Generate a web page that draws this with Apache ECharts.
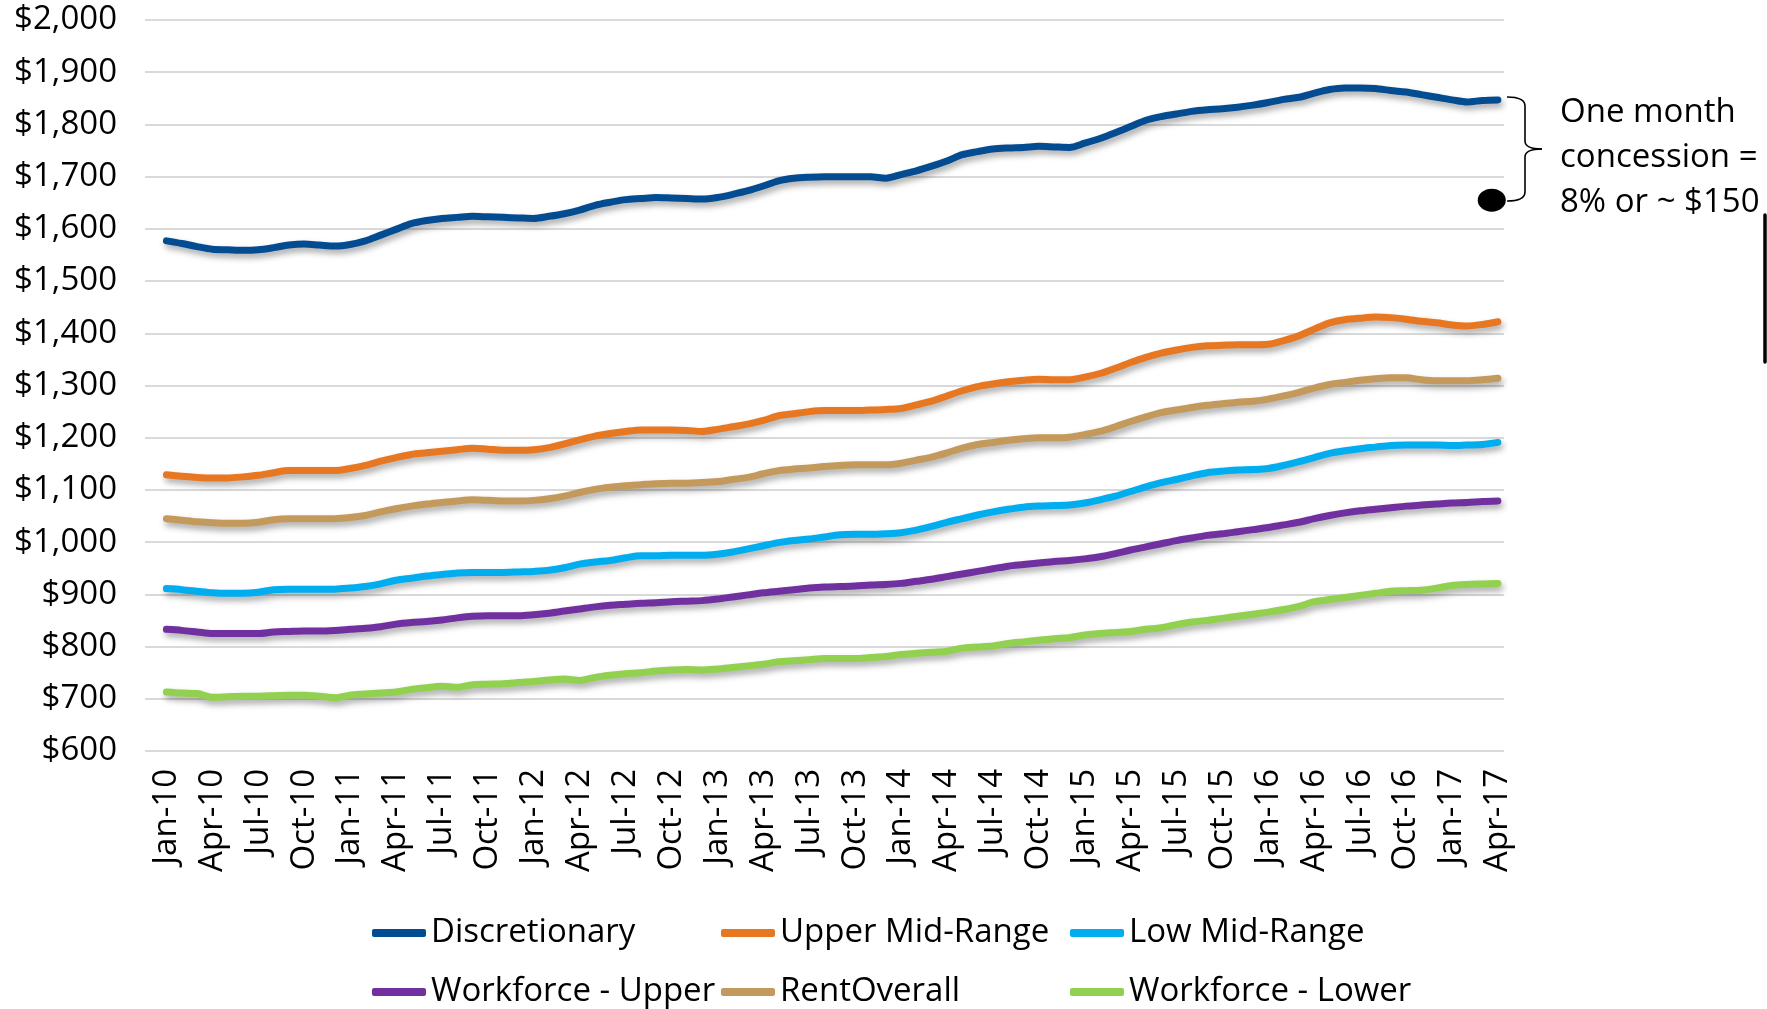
<!DOCTYPE html>
<html>
<head>
<meta charset="utf-8">
<script src="https://cdn.jsdelivr.net/npm/echarts@6/dist/echarts.min.js"></script>
<style>
html,body{margin:0;padding:0;background:#fff;}
#chart{width:1767px;height:1009px;}
</style>
</head>
<body>
<div id="chart"></div>
<script>
const months = [
 'Jan-10','Feb-10','Mar-10','Apr-10','May-10','Jun-10','Jul-10','Aug-10','Sep-10','Oct-10','Nov-10','Dec-10',
 'Jan-11','Feb-11','Mar-11','Apr-11','May-11','Jun-11','Jul-11','Aug-11','Sep-11','Oct-11','Nov-11','Dec-11',
 'Jan-12','Feb-12','Mar-12','Apr-12','May-12','Jun-12','Jul-12','Aug-12','Sep-12','Oct-12','Nov-12','Dec-12',
 'Jan-13','Feb-13','Mar-13','Apr-13','May-13','Jun-13','Jul-13','Aug-13','Sep-13','Oct-13','Nov-13','Dec-13',
 'Jan-14','Feb-14','Mar-14','Apr-14','May-14','Jun-14','Jul-14','Aug-14','Sep-14','Oct-14','Nov-14','Dec-14',
 'Jan-15','Feb-15','Mar-15','Apr-15','May-15','Jun-15','Jul-15','Aug-15','Sep-15','Oct-15','Nov-15','Dec-15',
 'Jan-16','Feb-16','Mar-16','Apr-16','May-16','Jun-16','Jul-16','Aug-16','Sep-16','Oct-16','Nov-16','Dec-16',
 'Jan-17','Feb-17','Mar-17','Apr-17'
];
const tickLabels = ['Jan-10','Apr-10','Jul-10','Oct-10','Jan-11','Apr-11','Jul-11','Oct-11','Jan-12','Apr-12','Jul-12','Oct-12',
 'Jan-13','Apr-13','Jul-13','Oct-13','Jan-14','Apr-14','Jul-14','Oct-14','Jan-15','Apr-15','Jul-15','Oct-15',
 'Jan-16','Apr-16','Jul-16','Oct-16','Jan-17','Apr-17'];

const discretionary = [1577,1572,1566,1561,1560,1559,1560,1564,1569,1571,1569,1567,
 1570,1577,1588,1599,1610,1616,1620,1622,1624,1623,1622,1621,
 1620,1624,1629,1636,1645,1651,1656,1658,1660,1659,1658,1657,
 1660,1666,1673,1682,1692,1697,1699,1700,1700,1700,1700,1697,
 1704,1711,1720,1730,1742,1748,1753,1755,1756,1758,1757,1756,
 1764,1773,1784,1796,1808,1815,1820,1825,1828,1830,1833,1837,
 1842,1848,1852,1860,1867,1870,1870,1869,1865,1862,1857,1852,
 1847,1843,1846,1847];
const upperMid = [1129,1126,1124,1123,1123,1125,1128,1133,1137,1137,1137,1137,
 1141,1147,1155,1162,1168,1171,1174,1177,1180,1178,1176,1176,
 1177,1181,1188,1196,1203,1208,1212,1215,1215,1215,1214,1212,
 1216,1221,1226,1233,1242,1246,1250,1252,1252,1252,1253,1254,
 1256,1263,1270,1280,1290,1298,1303,1307,1310,1312,1311,1311,
 1316,1323,1333,1344,1354,1362,1368,1373,1376,1377,1378,1378,
 1379,1386,1395,1408,1420,1426,1429,1431,1430,1427,1423,1420,
 1416,1414,1417,1422];
const lowMid = [911,909,906,903,902,902,904,909,910,910,910,910,
 912,915,920,927,931,935,938,941,942,942,942,943,
 944,946,951,958,962,965,970,974,974,975,975,975,
 977,981,987,993,999,1003,1006,1010,1014,1015,1015,1016,
 1018,1023,1030,1038,1045,1052,1058,1063,1067,1069,1070,1071,
 1075,1081,1088,1097,1106,1114,1120,1127,1133,1136,1138,1139,
 1141,1147,1154,1162,1170,1175,1179,1182,1185,1186,1186,1186,
 1185,1186,1187,1191];
const workforceUpper = [833,831,828,825,825,825,825,828,829,830,830,831,
 833,835,838,843,846,848,851,855,858,859,859,859,
 861,864,868,872,876,879,881,883,884,886,887,888,
 891,895,899,903,906,909,912,914,915,916,918,919,
 921,925,929,934,939,944,949,954,957,960,963,965,
 968,972,978,985,991,997,1003,1008,1013,1016,1020,1024,
 1028,1033,1038,1045,1051,1056,1060,1063,1066,1069,1071,1073,
 1075,1076,1078,1079];
const rentOverall = [1045,1042,1039,1037,1036,1036,1038,1043,1045,1045,1045,1045,
 1047,1051,1058,1064,1069,1073,1076,1079,1081,1080,1079,1079,
 1080,1083,1088,1095,1101,1105,1108,1110,1112,1113,1113,1114,
 1116,1120,1124,1131,1137,1140,1142,1145,1147,1148,1148,1148,
 1151,1157,1163,1171,1180,1187,1191,1195,1198,1200,1200,1201,
 1206,1212,1221,1231,1240,1248,1253,1258,1262,1265,1268,1270,
 1274,1280,1287,1295,1302,1306,1310,1313,1315,1315,1311,1309,
 1309,1309,1311,1314];
const workforceLower = [713,711,710,703,704,705,705,706,707,707,705,702,
 707,709,711,713,718,721,724,722,727,728,729,731,
 733,736,738,735,741,745,748,750,753,755,756,755,
 757,760,763,766,771,773,775,777,777,777,779,781,
 785,787,789,791,797,799,801,806,809,812,815,817,
 822,825,827,829,833,836,842,847,850,854,858,862,
 866,871,877,886,890,894,898,902,906,907,908,912,
 917,919,920,921];
const concessionPoint = [86.6, 1655];

const seriesNames = ['Discretionary','Upper Mid-Range','Low Mid-Range','Workforce - Upper','RentOverall','Workforce - Lower'];
const seriesValues = [discretionary, upperMid, lowMid, workforceUpper, rentOverall, workforceLower];
const seriesColors = ['#044C91','#E87722','#00AEEF','#7030A0','#C49A5C','#92D050'];

const FONT = 'Open Sans';
const FS = 33;
const chart = echarts.init(document.getElementById('chart'));

const tickIdx = tickLabels.map(l => months.indexOf(l));

const series = seriesNames.map((name, k) => ({
  name: name,
  type: 'line',
  data: seriesValues[k].map((v, i) => [i, v]),
  showSymbol: false,
  smooth: 0.3,
  color: seriesColors[k],
  lineStyle: {
    width: 7, color: seriesColors[k], cap: 'round', join: 'round',
    shadowColor: 'rgba(0,0,0,0.35)', shadowBlur: 6, shadowOffsetX: 2, shadowOffsetY: 4
  },
  emphasis: {disabled: true},
  z: 3
}));
series.push({
  type: 'scatter',
  name: 'concession',
  data: [concessionPoint],
  symbol: 'circle',
  symbolSize: [28, 23],
  itemStyle: {color: '#000', opacity: 1},
  emphasis: {disabled: true},
  z: 5
});

const legendCols = [372, 721, 1070];
const legendRows = [916, 975];
const legends = seriesNames.map((name, k) => ({
  data: [name],
  left: legendCols[k % 3],
  top: legendRows[Math.floor(k / 3)],
  padding: 0,
  icon: 'roundRect',
  itemWidth: 54,
  itemHeight: 8,
  itemGap: 0,
  selectedMode: false,
  textStyle: {fontFamily: FONT, fontSize: FS, color: '#000', lineHeight: 34}
}));

const braceStyle = {stroke: '#000', lineWidth: 1.6, fill: null};

chart.setOption({
  animation: false,
  backgroundColor: '#fff',
  grid: {left: 145, right: 263, top: 20, bottom: 258, containLabel: false},
  legend: legends,
  xAxis: {
    type: 'value',
    min: -1.4,
    max: 87.4,
    axisLine: {show: false},
    axisTick: {show: false},
    splitLine: {show: false},
    axisLabel: {
      customValues: tickIdx,
      rotate: 90,
      margin: 18,
      fontFamily: FONT,
      fontSize: FS,
      color: '#000',
      formatter: v => months[Math.round(v)]
    }
  },
  yAxis: {
    type: 'value',
    min: 600,
    max: 2000,
    interval: 100,
    axisLine: {show: false},
    axisTick: {show: false},
    splitLine: {show: true, lineStyle: {color: '#D9D9D9', width: 2}},
    axisLabel: {
      margin: 28,
      fontFamily: FONT,
      fontSize: FS,
      color: '#000',
      formatter: v => '$' + v.toLocaleString('en-US')
    }
  },
  series: series,
  graphic: [
    {type: 'bezierCurve', shape: {x1: 1507, y1: 97, cpx1: 1525, cpy1: 97, x2: 1525, y2: 106}, style: braceStyle},
    {type: 'line', shape: {x1: 1525, y1: 106, x2: 1525, y2: 141}, style: braceStyle},
    {type: 'bezierCurve', shape: {x1: 1525, y1: 141, cpx1: 1525, cpy1: 149, x2: 1542, y2: 149}, style: braceStyle},
    {type: 'bezierCurve', shape: {x1: 1542, y1: 149, cpx1: 1525, cpy1: 149, x2: 1525, y2: 157}, style: braceStyle},
    {type: 'line', shape: {x1: 1525, y1: 157, x2: 1525, y2: 192}, style: braceStyle},
    {type: 'bezierCurve', shape: {x1: 1525, y1: 192, cpx1: 1525, cpy1: 201, x2: 1507, y2: 201}, style: braceStyle},
    {
      type: 'text',
      left: 1560,
      top: 90,
      style: {
        text: 'One month\nconcession =\n8% or ~ $150',
        fontFamily: FONT, fontSize: FS, lineHeight: 45, fill: '#000'
      }
    },
    {
      type: 'line',
      shape: {x1: 1765, y1: 215, x2: 1765, y2: 362},
      style: {stroke: '#000', lineWidth: 3.5, lineCap: 'round'}
    }
  ]
});
</script>
</body>
</html>
